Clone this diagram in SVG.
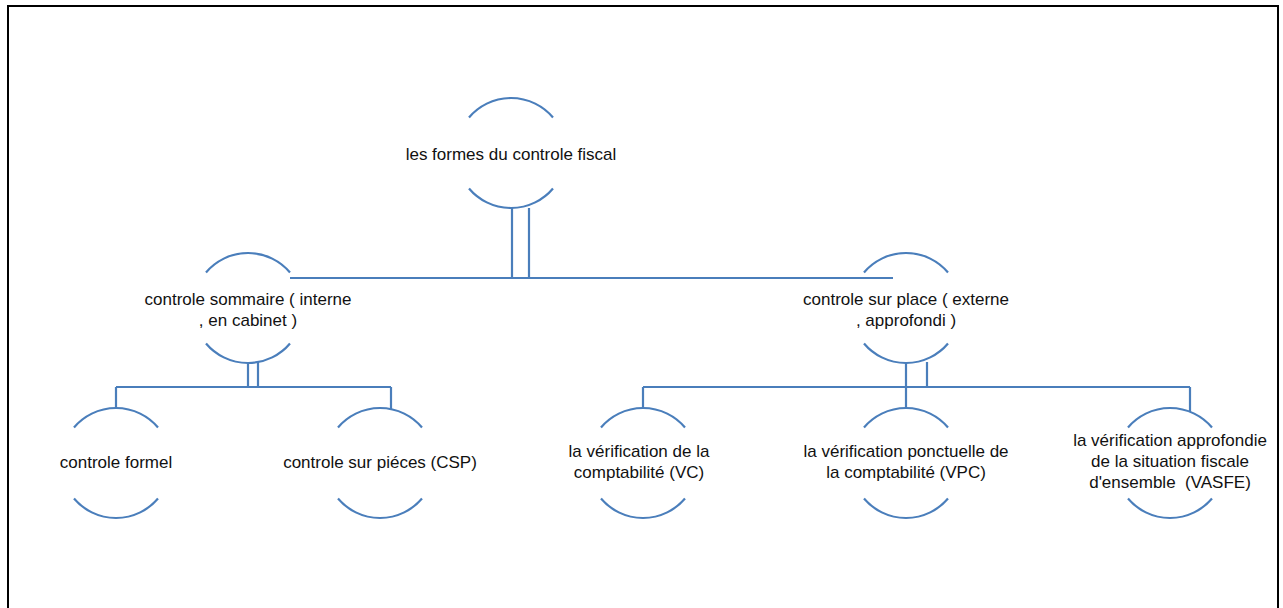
<svg xmlns="http://www.w3.org/2000/svg" width="1283" height="608" viewBox="0 0 1283 608">
<style>
.arc{fill:none;stroke:#4a7ebb;stroke-width:2.2}
.c{fill:none;stroke:#4a7ebb;stroke-width:2.2}
text{font-family:"Liberation Sans",Arial,sans-serif;font-size:17px;fill:#111;text-anchor:middle;white-space:pre}
</style>
<defs>
<path id="arcs" class="arc" d="M-42,-35.5 A55,55 0 0 1 42,-35.5 M-42,35.5 A55,55 0 0 0 42,35.5"/>
</defs>
<rect x="8" y="6" width="1270" height="620" fill="none" stroke="#000" stroke-width="2"/>
<g id="connectors">
<path class="c" d="M512,208 V278 M529,208 V278 M290,278 H893"/>
<path class="c" d="M248,362 V387 M258,362 V387 M116,387 H391 M116,387 V408 M391,387 V410"/>
<path class="c" d="M906,362 V408 M927,362 V387 M643,387 H1190 M643,387 V408 M1190,387 V412"/>
</g>
<g id="n1" transform="translate(511,153)"><use href="#arcs"/><text x="0" y="7">les formes du controle fiscal</text></g>
<g id="n2" transform="translate(248,308)"><use href="#arcs"/><text x="0" y="-3">controle sommaire ( interne</text><text x="0" y="18">, en cabinet )</text></g>
<g id="n3" transform="translate(906,308)"><use href="#arcs"/><text x="0" y="-3">controle sur place ( externe</text><text x="0" y="18">, approfondi )</text></g>
<g id="n4" transform="translate(116,463)"><use href="#arcs"/><text x="0" y="5">controle formel</text></g>
<g id="n5" transform="translate(380,463)"><use href="#arcs"/><text x="0" y="5">controle sur piéces (CSP)</text></g>
<g id="n6" transform="translate(643,463)"><use href="#arcs"/><text x="-4" y="-6">la vérification de la</text><text x="-4" y="15">comptabilité (VC)</text></g>
<g id="n7" transform="translate(906,463)"><use href="#arcs"/><text x="0" y="-6">la vérification ponctuelle de</text><text x="0" y="15">la comptabilité (VPC)</text></g>
<g id="n8" transform="translate(1170,463)"><use href="#arcs"/><text x="0" y="-17">la vérification approfondie</text><text x="0" y="4">de la situation fiscale</text><text x="0" y="25">d'ensemble  (VASFE)</text></g>
</svg>
